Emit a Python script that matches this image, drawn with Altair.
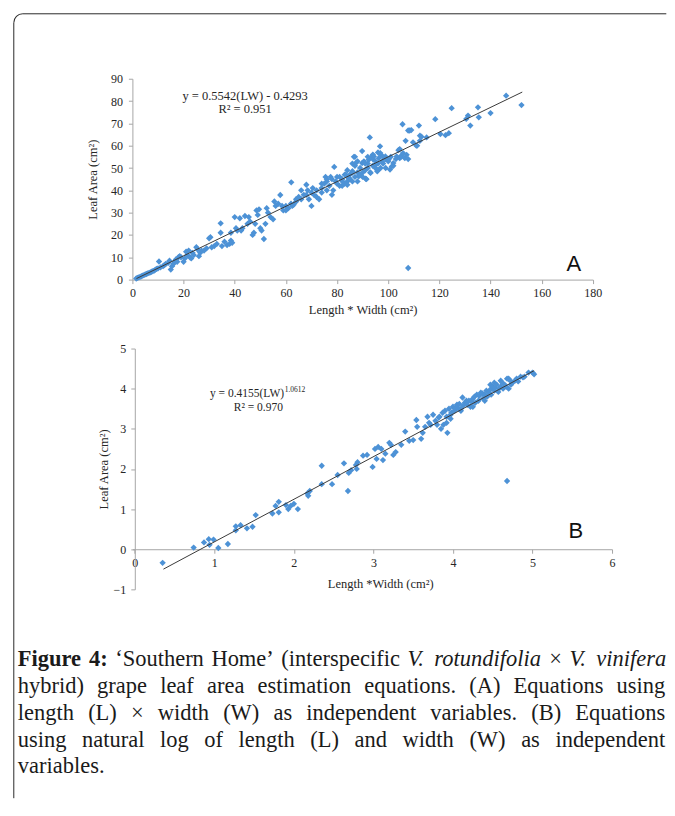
import math
import altair as alt
import pandas as pd

# ---------------- data ----------------
# Panel A : Length*Width (cm2) vs Leaf Area (cm2)
a_pts = [
(1.5,0.5),(2,0.8),(2.5,1.0),(3,1.2),(3.5,1.5),(4,1.8),(4.5,2.0),(5,2.3),(5.5,2.5),(6,2.8),(6.5,3.0),(7,3.2),
(7.5,3.5),(8,3.8),(8.5,4.0),(9,4.5),(9.5,4.8),(10,5.0),(10.4,8.1),(11,5.5),(12,6.0),(12.5,6.5),(13,7.0),(14,7.5),
(14.5,8.5),(15,4.5),(15.5,6.0),(16,7.0),(16.5,8.0),(17,9.0),(17.5,8.0),(18,10.0),(18.5,10.5),(19,10.0),(20,8.0),
(20.5,9.5),(21,12.5),(21.5,11.0),(22,13.0),(22.5,10.0),(23,9.5),(23.5,12.0),(24,11.0),(25,14.5),(25.5,13.5),
(26,10.5),(26.5,12.0),(27,13.0),(28,13.0),(29,14.0),(30,18.5),(30.5,19.0),(31,14.5),(32,15.0),(33,16.0),
(34.5,25.2),(34.5,21.0),(35,15.0),(36,17.0),(37,15.5),(38,16.0),(38.5,17.5),(38.5,21.0),(39,16.5),(40,28.0),
(40.5,23.0),(41,22.0),(42,27.5),(42.5,22.0),(43,23.0),(44,28.5),(45,25.0),(45.5,28.0),(46,26.0),(47,20.0),
(47.5,21.0),(48,25.0),(48.5,31.0),(49,29.0),(49.5,31.5),(50,23.0),(50.5,22.0),(51.4,18.2),(52,25.0),(52.5,32.0),
(53,30.0),(54,28.0),(55,27.0),(55.5,35.0),(56,33.0),(57,34.0),(57.8,37.9),(58.5,33.0),(59,31.0),(60,33.0),
(60,31.0),(61,32.0),(62.1,43.6),(62,34.0),(62.5,33.0),(63,33.5),(64,36.0),(64,35.0),(65,37.0),(66,36.0),
(66,40.0),(67,38.0),(68,42.5),(68,38.0),(68.5,40.0),(69,36.0),(70,33.0),(70,39.0),(70.5,41.0),(71,38.0),
(72,40.0),(72,37.0),(73,36.0),(74,41.0),(74,43.0),(74,39.0),(75,43.0),(75.5,46.0),(76,44.0),(76,40.0),
(76,45.0),(77,42.0),(77.5,46.0),(78,38.0),(78,45.0),(78.5,40.0),(78.9,50.5),(79.5,44.0),(80,46.0),(80,43.0),
(81,42.0),(81,46.0),(82,45.0),(82,42.0),(82.1,44.0),(83,47.0),(83,43.0),(83.4,47.0),(84,44.0),(84,46.0),
(84,49.0),(84,42.5),(84.7,45.5),(85,47.0),(85,45.0),(86,48.0),(86,44.0),(86,52.0),(86,48.6),(86.6,55.0),
(87,51.0),(87,55.0),(87.3,52.2),(87,46.0),(88,44.0),(88,48.0),(88,53.0),(88.5,46.3),(89,50.0),(89,47.0),
(89.8,57.6),(89.8,52.2),(90,48.0),(90,46.0),(90.5,53.0),(91,49.0),(91,52.0),(91.2,45.2),(91.5,45.0),(92,52.0),
(92,50.0),(92,55.0),(92.4,53.7),(92.8,63.7),(93,48.0),(93.1,47.8),(93.5,55.0),(94,51.0),(94,54.0),(94,56.0),
(94.4,55.2),(95,53.0),(95,50.0),(95,51.5),(95.7,48.5),(96,49.0),(96,52.0),(96,57.0),(96.3,54.4),(96.8,59.7),
(96.9,56.7),(97,56.0),(97,50.0),(97.6,52.9),(98,52.0),(98,55.0),(98.9,55.2),(99,54.0),(99,50.0),(100,53.0),
(100,54.0),(100.1,53.7),(100.7,49.3),(101,55.0),(101.4,50.7),(102,51.0),(102,52.2),(103,54.0),(103.3,55.2),
(104,58.0),(104.5,54.4),(104.5,58.5),(105,55.0),(105.1,55.5),(105.6,69.6),(105.8,56.7),(106.5,54.4),
(106.8,62.2),(107.2,55.9),(107.8,54.0),(107.8,66.8),(107.8,5.2),(108.4,66.8),(109,67.0),(109.7,61.5),
(111,60.0),(111.3,60.0),(112,69.0),(112.4,64.5),(112.4,62.2),(113,64.0),(115,63.7),(118.4,71.9),(120.4,65.2),
(122.4,64.7),(123.7,65.6),(124.8,76.8),(130.5,72.0),(131.2,73.5),(132.1,69.0),(135.1,77.2),(135.4,72.7),
(140,74.6),(146.1,82.4),(152.1,78.2),
]
a_x = [p[0] for p in a_pts]
a_y = [p[1] for p in a_pts]

# Panel B : ln(L*W) vs ln(Leaf Area)
b_pts = [
(0.35,-0.34),(0.74,0.04),(0.87,0.17),(0.93,0.25),(0.94,0.11),(0.99,0.24),(1.05,0.03),(1.17,0.13),(1.27,0.57),
(1.27,0.47),(1.33,0.6),(1.41,0.52),(1.48,0.56),(1.52,0.85),(1.73,0.89),(1.77,1.08),(1.81,1.18),(1.81,0.92),
(1.9,1.1),(1.93,1.0),(1.96,1.08),(2.0,1.13),(2.05,1.0),(2.17,1.39),(2.18,1.33),(2.2,1.45),(2.35,2.08),
(2.35,1.62),(2.48,1.62),(2.55,1.85),(2.63,2.14),(2.68,1.45),(2.69,1.9),(2.72,1.97),(2.78,2.1),(2.79,2.0),
(2.8,2.17),(2.87,2.33),(2.92,2.35),(2.99,2.05),(3.02,2.5),(3.04,2.25),(3.06,2.55),(3.1,2.5),(3.12,2.22),
(3.15,2.38),(3.2,2.65),(3.22,2.6),(3.25,2.35),(3.28,2.42),(3.35,2.6),(3.4,2.93),(3.45,2.7),(3.5,2.72),
(3.54,3.22),(3.55,3.05),(3.6,2.75),(3.62,2.9),(3.65,3.05),(3.68,3.3),(3.7,3.15),(3.72,3.1),(3.75,3.35),
(3.78,3.2),(3.8,3.1),(3.82,3.28),(3.83,3.3),(3.85,3.0),(3.87,3.4),(3.88,3.1),(3.9,3.45),(3.92,3.15),
(3.92,3.3),(3.93,2.9),(3.95,3.5),(3.97,3.35),(3.97,3.25),(3.98,3.4),(4.0,3.55),(4.02,3.45),(4.03,3.5),
(4.05,3.6),(4.07,3.5),(4.08,3.62),(4.1,3.5),(4.1,3.45),(4.12,3.78),(4.13,3.58),(4.15,3.65),(4.17,3.7),
(4.18,3.6),(4.2,3.7),(4.22,3.55),(4.23,3.68),(4.25,3.75),(4.25,3.55),(4.27,3.8),(4.28,3.65),(4.3,3.85),
(4.32,3.7),(4.33,3.82),(4.35,3.9),(4.37,3.88),(4.38,3.75),(4.4,3.85),(4.4,3.7),(4.42,3.95),(4.43,3.8),
(4.45,3.9),(4.47,3.98),(4.47,4.1),(4.48,3.85),(4.5,4.05),(4.52,3.95),(4.52,4.15),(4.53,4.02),(4.55,4.1),
(4.57,3.92),(4.58,4.0),(4.6,4.05),(4.6,4.2),(4.62,4.15),(4.63,4.0),(4.65,4.1),(4.67,4.05),(4.68,4.25),
(4.68,1.7),(4.7,4.0),(4.7,4.25),(4.72,4.2),(4.73,4.1),(4.75,4.15),(4.78,4.2),(4.8,4.25),(4.82,4.18),
(4.85,4.3),(4.88,4.28),(4.9,4.3),(4.95,4.4),(5.0,4.4),(5.02,4.36),
]
b_x = [p[0] for p in b_pts]
b_y = [p[1] for p in b_pts]

# fitted equations shown on the figure
A_SLOPE, A_INTERCEPT, A_R2 = 0.5542, -0.4293, 0.951
A_FIT_RANGE = [1.6, 152.4]
B_COEF, B_EXP, B_R2 = 0.4155, 1.0612, 0.970
B_FIT_RANGE = [0.36, 5.02]

a_xticks = [0, 20, 40, 60, 80, 100, 120, 140, 160, 180]
a_yticks = [0, 10, 20, 30, 40, 50, 60, 70, 80, 90]
b_xticks = [0, 1, 2, 3, 4, 5, 6]
b_yticks = [-1, 0, 1, 2, 3, 4, 5]

caption_lines = [
    [("Figure", "b"), ("4:", "b"), ("\u2018Southern", "r"), ("Home\u2019", "r"), ("(interspecific", "r"),
     ("V.", "i"), ("rotundifolia", "i"), ("\u00d7", "r"), ("V.", "i"), ("vinifera", "i")],
    [(w, "r") for w in "hybrid) grape leaf area estimation equations. (A) Equations using".split()],
    [(w, "r") for w in "length (L) \u00d7 width (W) as independent variables. (B) Equations".split()],
    [(w, "r") for w in "using natural log of length (L) and width (W) as independent".split()],
    [("variables.", "r")],
]

# ---------------- styling ----------------
BLUE = "#4d92d6"
SERIF = "Liberation Serif"
AX_GRAY = "#a6a6a6"
TXT = "#262626"

A_W, A_H = 460.8, 201
B_W, B_H = 480, 241
X0 = 131.7          # page x of the plot areas' left edge
C_TOP = 658         # page y of caption group

def axis(values, title, **kw):
    base = dict(values=values, title=title, grid=False, domainColor=AX_GRAY, tickColor=AX_GRAY,
                tickSize=4, labelFont=SERIF, titleFont=SERIF, labelFontSize=12, titleFontSize=12.5,
                titleFontWeight="normal", labelColor=TXT, titleColor=TXT, labelOverlap=False,
                labelFlush=False, format="d")
    base.update(kw)
    return alt.Axis(**base)

def label(text, px, py, **kw):
    return alt.Chart(pd.DataFrame({"t": [text]})).mark_text(
        baseline="alphabetic", **kw).encode(x=alt.value(px), y=alt.value(py), text="t:N")

# ---------------- panel A ----------------
dfA = pd.DataFrame({"x": a_x, "y": a_y})
xa = alt.Scale(domain=[0, 180], nice=False, zero=False)
ya = alt.Scale(domain=[0, 90], nice=False, zero=False)
axA_x = axis(a_xticks, "Length * Width (cm\u00b2)", labelPadding=4, titlePadding=5)
axA_y = axis(a_yticks, "Leaf Area (cm\u00b2)", labelPadding=6, titlePadding=11)
ptsA = alt.Chart(dfA).mark_point(shape="diamond", filled=True, size=40, color=BLUE, opacity=1).encode(
    x=alt.X("x:Q", scale=xa, axis=axA_x), y=alt.Y("y:Q", scale=ya, axis=axA_y))
lineA = pd.DataFrame({"x": A_FIT_RANGE, "y": [A_SLOPE * v + A_INTERCEPT for v in A_FIT_RANGE]})
fitA = alt.Chart(lineA).mark_line(color="#3a3a3a", strokeWidth=1).encode(
    x=alt.X("x:Q", scale=xa, axis=axA_x), y=alt.Y("y:Q", scale=ya, axis=axA_y))
eqA1 = label(f"y = {A_SLOPE}(LW) - {abs(A_INTERCEPT)}", 112.8, 21, font=SERIF, fontSize=12.5, color=TXT, align="center")
eqA2 = label(f"R\u00b2 = {A_R2}", 112.8, 34.5, font=SERIF, fontSize=12.5, color=TXT, align="center")
letA = label("A", 434.5, 192, font="Liberation Sans", fontSize=22, color="#111", align="left")
chartA = alt.layer(ptsA, fitA, eqA1, eqA2, letA).properties(width=A_W, height=A_H)

# ---------------- panel B ----------------
dfB = pd.DataFrame({"x": b_x, "y": b_y})
xb = alt.Scale(domain=[-0.03, 6], nice=False, zero=False)
yb = alt.Scale(domain=[-1, 5], nice=False, zero=False)
zero_off = -(B_H * 1 / 6)
axB_x = axis(b_xticks, "Length *Width (cm\u00b2)", offset=zero_off, labelPadding=4, titlePadding=9, titleX=248)
axB_y = axis(b_yticks, "Leaf Area (cm\u00b2)", offset=-2.4, labelPadding=5, titlePadding=3)
ptsB = alt.Chart(dfB).mark_point(shape="diamond", filled=True, size=40, color=BLUE, opacity=1).encode(
    x=alt.X("x:Q", scale=xb, axis=axB_x), y=alt.Y("y:Q", scale=yb, axis=axB_y))
lnc = math.log(B_COEF)
lineB = pd.DataFrame({"x": B_FIT_RANGE, "y": [lnc + B_EXP * v for v in B_FIT_RANGE]})
fitB = alt.Chart(lineB).mark_line(color="#3a3a3a", strokeWidth=1).encode(
    x=alt.X("x:Q", scale=xb, axis=axB_x), y=alt.Y("y:Q", scale=yb, axis=axB_y))
eqB1 = label(f"y = {B_COEF}(LW)", 77.6, 48.7, font=SERIF, fontSize=11.5, color=TXT, align="left")
eqB2 = label(f"{B_EXP}", 152.4, 43.5, font=SERIF, fontSize=7.5, color=TXT, align="left")
eqB3 = label(f"R\u00b2 = {B_R2:.3f}", 126, 62.5, font=SERIF, fontSize=11.5, color=TXT, align="center")
letB = label("B", 436.5, 190, font="Liberation Sans", fontSize=22, color="#111", align="left")
chartB = alt.layer(ptsB, fitB, eqB1, eqB2, eqB3, letB).properties(width=B_W, height=B_H)

# ---------------- caption (justified, Times metrics) ----------------
W_R = {' ': 250, '(': 333, ')': 333, '.': 250, ':': 278, '\u2018': 333, '\u2019': 333, '\u00d7': 564,
       'a': 444, 'b': 500, 'c': 444, 'd': 500, 'e': 444, 'f': 333, 'g': 500, 'h': 500, 'i': 278, 'j': 278,
       'k': 500, 'l': 278, 'm': 778, 'n': 500, 'o': 500, 'p': 500, 'q': 500, 'r': 333, 's': 389, 't': 278,
       'u': 500, 'v': 500, 'w': 722, 'x': 500, 'y': 500, 'z': 444, 'A': 722, 'B': 667, 'E': 611, 'F': 556,
       'H': 722, 'L': 611, 'S': 556, 'V': 722, 'W': 944}
W_I = {'a': 500, 'b': 500, 'c': 444, 'd': 500, 'e': 444, 'f': 278, 'g': 500, 'h': 500, 'i': 278, 'l': 278,
       'n': 500, 'o': 500, 'r': 389, 't': 278, 'u': 500, 'v': 444, 'V': 611, '.': 250}
W_B = {'F': 611, 'i': 278, 'g': 500, 'u': 556, 'r': 444, 'e': 444, '4': 500, ':': 333}
CAP_FS = 22.5
LEFT = 17
RIGHTS = [666, 665, 665, 665, None]
BASES = [666, 693, 720, 746.5, 773]

def wwidth(word, style):
    tab = {"r": W_R, "i": W_I, "b": W_B}[style]
    return sum(tab.get(ch, W_R.get(ch, 500)) for ch in word) / 1000 * CAP_FS

rows = []
for words, right, base in zip(caption_lines, RIGHTS, BASES):
    widths = [wwidth(w, s) for w, s in words]
    if right is None or len(words) < 2:
        gap = 0.25 * CAP_FS
    else:
        gap = (right - LEFT - sum(widths)) / (len(words) - 1)
    xpos = LEFT
    for (w, s), wd in zip(words, widths):
        rows.append({"t": w, "s": s, "px": xpos - X0, "py": base - C_TOP})
        xpos += wd + gap
capdf = pd.DataFrame(rows)

def cap_layer(style, **kw):
    return alt.Chart(capdf).transform_filter(alt.datum.s == style).mark_text(
        font=SERIF, fontSize=CAP_FS, color="#1a1a1a", align="left", baseline="alphabetic", **kw).encode(
        x=alt.X("px:Q", scale=None, axis=None), y=alt.Y("py:Q", scale=None, axis=None), text="t:N")

# frame: left and top edges with a rounded corner (the rest lies outside the picture)
R = 9
one = pd.DataFrame({"k": [0]})
FRAME = "#2a2a2a"
frame_left = alt.Chart(one).mark_rule(color=FRAME, strokeWidth=1).encode(
    x=alt.value(13 - X0), y=alt.value(13 + R - C_TOP), y2=alt.value(798 - C_TOP))
frame_top = alt.Chart(one).mark_rule(color=FRAME, strokeWidth=1).encode(
    x=alt.value(13 + R - X0), x2=alt.value(666 - X0), y=alt.value(13 - C_TOP))
frame_corner = alt.Chart(one).mark_arc(
    innerRadius=R - 0.5, outerRadius=R + 0.5, theta=3 * math.pi / 2, theta2=2 * math.pi, color=FRAME).encode(
    x=alt.value(13 + R - X0), y=alt.value(13 + R - C_TOP))

chartC = alt.layer(frame_left, frame_top, frame_corner, cap_layer("r"), cap_layer("i", fontStyle="italic"),
                   cap_layer("b", fontWeight="bold")).properties(width=A_W, height=120)

chart = alt.vconcat(chartA, chartB, chartC, spacing=69, bounds="flush").properties(
    padding={"left": 4.5, "top": 4.5, "right": 0, "bottom": 0}
).configure_view(strokeWidth=0)

chart.save("out.html", embed_options={"renderer": "svg", "actions": False})
